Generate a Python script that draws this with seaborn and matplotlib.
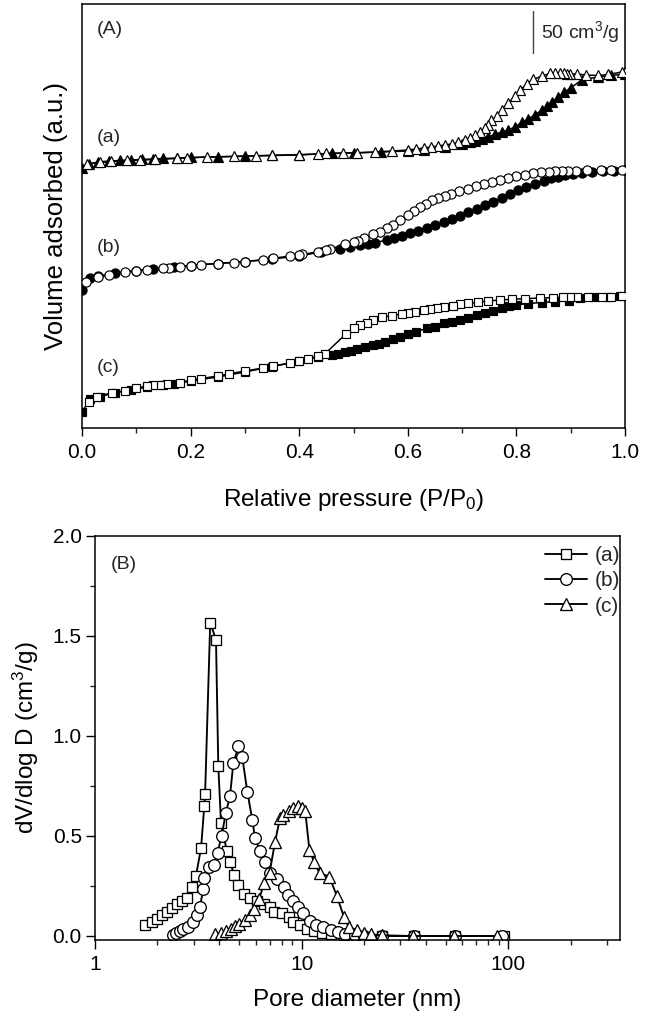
import matplotlib
matplotlib.use("Agg")
import matplotlib.pyplot as plt
import matplotlib.ticker as mticker
import seaborn as sns
import pandas as pd

# ---------------- (A) N2 isotherms: relative pressure vs volume (a.u., offset) ----------------
a_ads_p = [0.000, 0.012, 0.030, 0.050, 0.070, 0.090, 0.110, 0.130, 0.150, 0.175, 0.200, 0.250,
           0.300, 0.350, 0.400, 0.460, 0.500, 0.550, 0.600, 0.630, 0.668, 0.700, 0.715, 0.724,
           0.736, 0.748, 0.760, 0.773, 0.785, 0.797, 0.810, 0.822, 0.834, 0.847, 0.857, 0.866,
           0.877, 0.888, 0.900, 0.920, 0.950, 0.975, 1.000]
a_ads_v = [260, 264, 266, 267, 267.5, 268, 268.5, 269, 269.5, 270, 270.5, 271.2,
           272, 272.7, 273.4, 274.5, 275, 276, 277, 278, 280.5, 283.5, 285.5, 287,
           289, 291, 293.5, 296, 298, 301, 305.5, 309, 313, 318, 322, 326,
           331, 336, 340, 348, 351, 352.5, 354]
a_des_p = [1.000, 0.994, 0.969, 0.950, 0.929, 0.911, 0.899, 0.893, 0.887, 0.880, 0.872, 0.862,
           0.847, 0.831, 0.819, 0.807, 0.797, 0.785, 0.773, 0.764, 0.754, 0.748, 0.742, 0.733,
           0.724, 0.715, 0.705, 0.693, 0.681, 0.668, 0.656, 0.643, 0.630, 0.615, 0.600, 0.570,
           0.540, 0.507, 0.480, 0.450, 0.434, 0.400, 0.350, 0.320, 0.280, 0.230, 0.193, 0.175,
           0.135, 0.107, 0.083, 0.053, 0.033, 0.009]
a_des_v = [356, 356, 353.5, 352.5, 353, 354, 354, 354, 354.5, 354.5, 354.5, 354.5,
           352, 348.5, 344, 338, 331.5, 325, 318, 312, 307.5, 303, 300, 296,
           292.5, 290, 287.5, 285.5, 284, 283, 282, 281, 280, 279, 278, 277,
           276, 275.3, 275, 274.5, 274, 273, 272.5, 272, 271.5, 271, 270, 269.5,
           268.5, 268, 267.5, 266.5, 265.5, 264]

b_ads_p = [0.000, 0.015, 0.030, 0.060, 0.100, 0.130, 0.170, 0.200, 0.250, 0.300, 0.350, 0.400,
           0.440, 0.475, 0.494, 0.512, 0.527, 0.540, 0.561, 0.575, 0.589, 0.604, 0.619, 0.635,
           0.650, 0.666, 0.681, 0.696, 0.711, 0.727, 0.742, 0.757, 0.773, 0.788, 0.803, 0.818,
           0.834, 0.850, 0.864, 0.877, 0.890, 0.905, 0.920, 0.940, 0.960, 0.980, 1.000]
b_ads_v = [138, 150, 152, 155, 157.5, 159, 161, 162.5, 164.5, 166.5, 169, 172,
           176, 178.7, 181.3, 183, 184, 185.3, 188, 190, 192, 194.5, 197, 199.5,
           202.5, 205.5, 208.5, 212, 215.5, 219, 222.5, 226, 230, 233.5, 237.5, 241,
           244, 247, 249.5, 251, 252.5, 254, 255, 256, 256.5, 257, 257.5]
b_des_p = [0.995, 0.975, 0.955, 0.930, 0.910, 0.895, 0.884, 0.872, 0.860, 0.845, 0.830, 0.815,
           0.800, 0.785, 0.770, 0.755, 0.740, 0.725, 0.710, 0.695, 0.680, 0.668, 0.656, 0.645,
           0.633, 0.622, 0.611, 0.601, 0.586, 0.573, 0.561, 0.549, 0.536, 0.520, 0.509, 0.500,
           0.484, 0.457, 0.450, 0.435, 0.406, 0.400, 0.383, 0.352, 0.334, 0.300, 0.280, 0.250,
           0.220, 0.200, 0.180, 0.160, 0.150, 0.120, 0.100, 0.080, 0.050, 0.030, 0.008]
b_des_v = [258, 258, 257.5, 257.5, 257, 257, 257, 256.5, 256, 255.5, 254.5, 253,
           251.5, 250, 248, 246, 244, 241.5, 239, 236.5, 234, 232, 230, 227.5,
           224, 220.5, 217, 213, 207.5, 203, 199.5, 196.3, 193.5, 189.5, 187.3, 185.7,
           184, 178.5, 177.5, 176.3, 173.5, 173, 172, 169.7, 168, 166.5, 165.5, 164.5,
           163.5, 162.5, 161.5, 160.5, 160, 158, 157, 156, 153, 151, 146]

c_ads_p = [0.000, 0.015, 0.033, 0.060, 0.090, 0.120, 0.150, 0.170, 0.200, 0.250, 0.300, 0.350,
           0.400, 0.435, 0.460, 0.472, 0.484, 0.495, 0.506, 0.521, 0.536, 0.547, 0.558, 0.572,
           0.586, 0.601, 0.616, 0.635, 0.650, 0.666, 0.681, 0.696, 0.711, 0.727, 0.742, 0.757,
           0.773, 0.787, 0.800, 0.822, 0.847, 0.871, 0.896, 0.917, 0.945, 0.969, 0.990]
c_ads_v = [16, 29, 31.5, 35, 38, 41, 43, 44, 47, 51, 56, 61.5,
           67, 71, 73, 74.5, 76.3, 77.5, 78.7, 81, 83, 84.5, 86.3, 89,
           91.3, 94, 96.3, 99.7, 101.5, 104.7, 106.5, 108.5, 110.5, 113, 115, 117.5,
           120, 122, 123, 124.5, 125.5, 126.5, 127.5, 129.7, 130.7, 131.3, 131.7]
c_des_p = [0.994, 0.975, 0.957, 0.932, 0.912, 0.899, 0.886, 0.868, 0.843, 0.816, 0.791, 0.770,
           0.748, 0.730, 0.711, 0.696, 0.684, 0.666, 0.653, 0.641, 0.629, 0.613, 0.600, 0.589,
           0.570, 0.552, 0.536, 0.524, 0.512, 0.500, 0.486, 0.447, 0.435, 0.417, 0.400, 0.383,
           0.352, 0.334, 0.300, 0.270, 0.250, 0.220, 0.200, 0.180, 0.156, 0.144, 0.131, 0.119,
           0.100, 0.079, 0.055, 0.027, 0.012]
c_des_v = [132, 131.3, 131, 130.7, 130.7, 130.7, 130.7, 130.3, 130, 129.3, 128.7, 128,
           127, 125.7, 124.7, 123.7, 122.5, 121, 120, 119.5, 118, 116.3, 115.2, 114,
           112.3, 110.7, 108, 105.5, 103, 99.7, 94, 74, 72.3, 68.7, 67.3, 64.7,
           62, 60, 57, 54, 52, 49.5, 48, 45.3, 44, 43.5, 43, 42,
           39.7, 37.3, 35.3, 31.3, 26.3]

# scale bar: 50 cm3/g corresponds to this many a.u.
scale_bar_au = 42

# ---------------- (B) pore size distributions ----------------
psd_a_d = [1.75, 1.88, 1.99, 2.11, 2.23, 2.36, 2.50, 2.65, 2.79, 2.95, 3.08, 3.26, 3.38, 3.41,
           3.61, 3.85, 3.95, 4.07, 4.34, 4.50, 4.72, 4.94, 5.26, 5.62, 6.08, 6.58, 6.99, 7.36,
           8.05, 8.64, 9.13, 9.84, 10.6, 11.5, 12.5, 13.8, 16.0, 19.0, 24.5, 35.0, 55.0, 95.5]
psd_a_v = [0.054, 0.070, 0.087, 0.104, 0.120, 0.140, 0.160, 0.176, 0.190, 0.245, 0.300, 0.440,
           0.650, 0.710, 1.566, 1.480, 0.850, 0.565, 0.427, 0.370, 0.305, 0.255, 0.210, 0.190,
           0.176, 0.158, 0.146, 0.121, 0.116, 0.096, 0.070, 0.054, 0.037, 0.025, 0.015, 0.008,
           0.004, 0.002, 0.001, 0.0, 0.0, 0.0]
psd_b_d = [2.38, 2.47, 2.59, 2.68, 2.83, 2.99, 3.10, 3.22, 3.34, 3.38, 3.57, 3.76, 3.92, 4.10,
           4.30, 4.50, 4.67, 4.94, 5.16, 5.46, 5.77, 5.95, 6.28, 6.64, 7.03, 7.62, 8.18, 8.62,
           9.10, 9.63, 10.2, 10.96, 11.7, 12.7, 13.8, 15.0, 16.2, 18.2, 20.0, 24.5, 35.0, 55.0, 93.0]
psd_b_v = [0.005, 0.015, 0.025, 0.034, 0.047, 0.072, 0.105, 0.147, 0.233, 0.288, 0.343, 0.355,
           0.417, 0.500, 0.617, 0.700, 0.863, 0.947, 0.893, 0.720, 0.580, 0.488, 0.425, 0.370,
           0.313, 0.283, 0.243, 0.205, 0.177, 0.147, 0.113, 0.077, 0.055, 0.043, 0.030, 0.020,
           0.012, 0.003, 0.0, 0.0, 0.0, 0.0, 0.0]
psd_c_d = [3.82, 4.09, 4.29, 4.54, 4.74, 4.98, 5.29, 5.62, 5.88, 6.22, 6.58, 6.99, 7.43, 7.85,
           8.15, 8.64, 9.13, 9.57, 10.0, 10.4, 10.9, 11.5, 12.2, 13.6, 14.8, 16.0, 16.9, 18.6,
           20.0, 21.6, 24.6, 34.5, 54.5, 88.0]
psd_c_v = [0.008, 0.015, 0.025, 0.037, 0.049, 0.062, 0.079, 0.104, 0.133, 0.183, 0.264, 0.314,
           0.469, 0.588, 0.605, 0.625, 0.642, 0.648, 0.642, 0.627, 0.430, 0.368, 0.314, 0.297,
           0.200, 0.096, 0.045, 0.029, 0.015, 0.008, 0.003, 0.0, 0.0, 0.0]

series_labels = ["(a)", "(b)", "(c)"]
x_ticks_A = [0.0, 0.2, 0.4, 0.6, 0.8, 1.0]
y_ticks_B = [0.0, 0.5, 1.0, 1.5, 2.0]

# ---------------- style ----------------
sns.set_theme(style="ticks")
FONT = ["Liberation Sans", "DejaVu Sans"]
plt.rcParams["font.family"] = FONT
plt.rcParams["mathtext.fontset"] = "custom"
plt.rcParams["mathtext.rm"] = "Liberation Sans"
plt.rcParams["mathtext.it"] = "Liberation Sans:italic"
plt.rcParams["axes.linewidth"] = 1.1
plt.rcParams["axes.edgecolor"] = "black"

fig = plt.figure(figsize=(6.55, 10.17), dpi=100)
ax1 = fig.add_axes([82 / 655, 1 - 428 / 1017, 543 / 655, 423.5 / 1017])
ax2 = fig.add_axes([95 / 655, 1 - 940 / 1017, 525 / 655, 404.3 / 1017])

LW = 1.1
MEW = 0.85


def iso(ax, p, v, marker, filled, ms, z):
    df = pd.DataFrame({"p": p, "v": v})
    sns.lineplot(data=df, x="p", y="v", ax=ax, sort=False, estimator=None,
                 color="black", lw=LW, marker=marker, markersize=ms,
                 markerfacecolor="black" if filled else "white",
                 markeredgecolor="black", markeredgewidth=MEW, zorder=z,
                 legend=False)


iso(ax1, a_ads_p, a_ads_v, "^", True, 7.0, 3)
iso(ax1, a_des_p, a_des_v, "^", False, 7.0, 4)
iso(ax1, b_ads_p, b_ads_v, "o", True, 6.6, 3)
iso(ax1, b_des_p, b_des_v, "o", False, 6.6, 4)
iso(ax1, c_ads_p, c_ads_v, "s", True, 5.9, 3)
iso(ax1, c_des_p, c_des_v, "s", False, 5.9, 4)

ax1.set_xlim(0, 1.0)
ax1.set_ylim(0, 423.5)
ax1.set_xticks(x_ticks_A)
ax1.xaxis.set_major_formatter(mticker.FormatStrFormatter("%.1f"))
ax1.xaxis.set_minor_locator(mticker.MultipleLocator(0.1))
ax1.set_yticks([])
ax1.tick_params(axis="x", which="major", direction="out", length=6, width=1.0,
                labelsize=15, pad=5, colors="black")
ax1.tick_params(axis="x", which="minor", direction="out", length=3.5, width=1.0)
ax1.set_xlabel("Relative pressure (P/P$_0$)", fontsize=17.5, labelpad=18, color="black")
ax1.set_ylabel("Volume adsorbed (a.u.)", fontsize=18.5, labelpad=10, color="black")
for s in ax1.spines.values():
    s.set_visible(True)
    s.set_color("black")

ax1.text(0.028, 0.94, "(A)", transform=ax1.transAxes, fontsize=14, va="center", ha="left")
ax1.text(0.028, 291, "(a)", fontsize=14, va="center", ha="left")
ax1.text(0.028, 180, "(b)", fontsize=14, va="center", ha="left")
ax1.text(0.028, 60, "(c)", fontsize=14, va="center", ha="left")
# scale bar
sb_top = 417
ax1.plot([0.83, 0.83], [sb_top - scale_bar_au, sb_top], color="#444444", lw=1.0)
ax1.text(0.845, sb_top - scale_bar_au / 2, "50 cm$^3$/g", fontsize=14, va="center", ha="left")

# ---------------- panel B ----------------
markers = ["s", "o", "^"]
sizes = [7.6, 8.4, 8.8]
for d, v, m, ms, lab in zip([psd_a_d, psd_b_d, psd_c_d], [psd_a_v, psd_b_v, psd_c_v],
                            markers, sizes, series_labels):
    df = pd.DataFrame({"d": d, "v": v})
    sns.lineplot(data=df, x="d", y="v", ax=ax2, sort=False, estimator=None,
                 color="black", lw=1.35, marker=m, markersize=ms,
                 markerfacecolor="white", markeredgecolor="black",
                 markeredgewidth=0.95, label=lab)

ax2.set_xscale("log")
ax2.set_xlim(1, 347)
ax2.set_ylim(-0.02, 2.0)
ax2.set_yticks(y_ticks_B)
ax2.yaxis.set_major_formatter(mticker.FormatStrFormatter("%.1f"))
ax2.yaxis.set_minor_locator(mticker.MultipleLocator(0.25))
ax2.xaxis.set_major_locator(mticker.LogLocator(base=10, numticks=10))
ax2.xaxis.set_major_formatter(mticker.FuncFormatter(lambda x, p: f"{x:g}"))
ax2.xaxis.set_minor_locator(mticker.LogLocator(base=10, subs=range(2, 10), numticks=20))
ax2.xaxis.set_minor_formatter(mticker.NullFormatter())
ax2.tick_params(which="major", direction="out", length=6.5, width=1.0, labelsize=15,
                colors="black")
ax2.tick_params(which="minor", direction="out", length=3.5, width=1.0)
ax2.tick_params(axis="y", which="major", pad=3)
ax2.tick_params(axis="x", which="major", pad=4)
ax2.set_xlabel("Pore diameter (nm)", fontsize=17.5, labelpad=11, color="black")
ax2.set_ylabel("dV/dlog D (cm$^3$/g)", fontsize=17.5, labelpad=8, color="black")
for s in ax2.spines.values():
    s.set_visible(True)
    s.set_color("black")
ax2.text(0.03, 0.93, "(B)", transform=ax2.transAxes, fontsize=14, va="center", ha="left")

leg = ax2.legend(loc="upper right", bbox_to_anchor=(1.025, 1.005), frameon=False,
                 fontsize=15, handlelength=2.0, handletextpad=0.4, labelspacing=0.3,
                 borderaxespad=0.2)

fig.savefig("out.png", dpi=100)
